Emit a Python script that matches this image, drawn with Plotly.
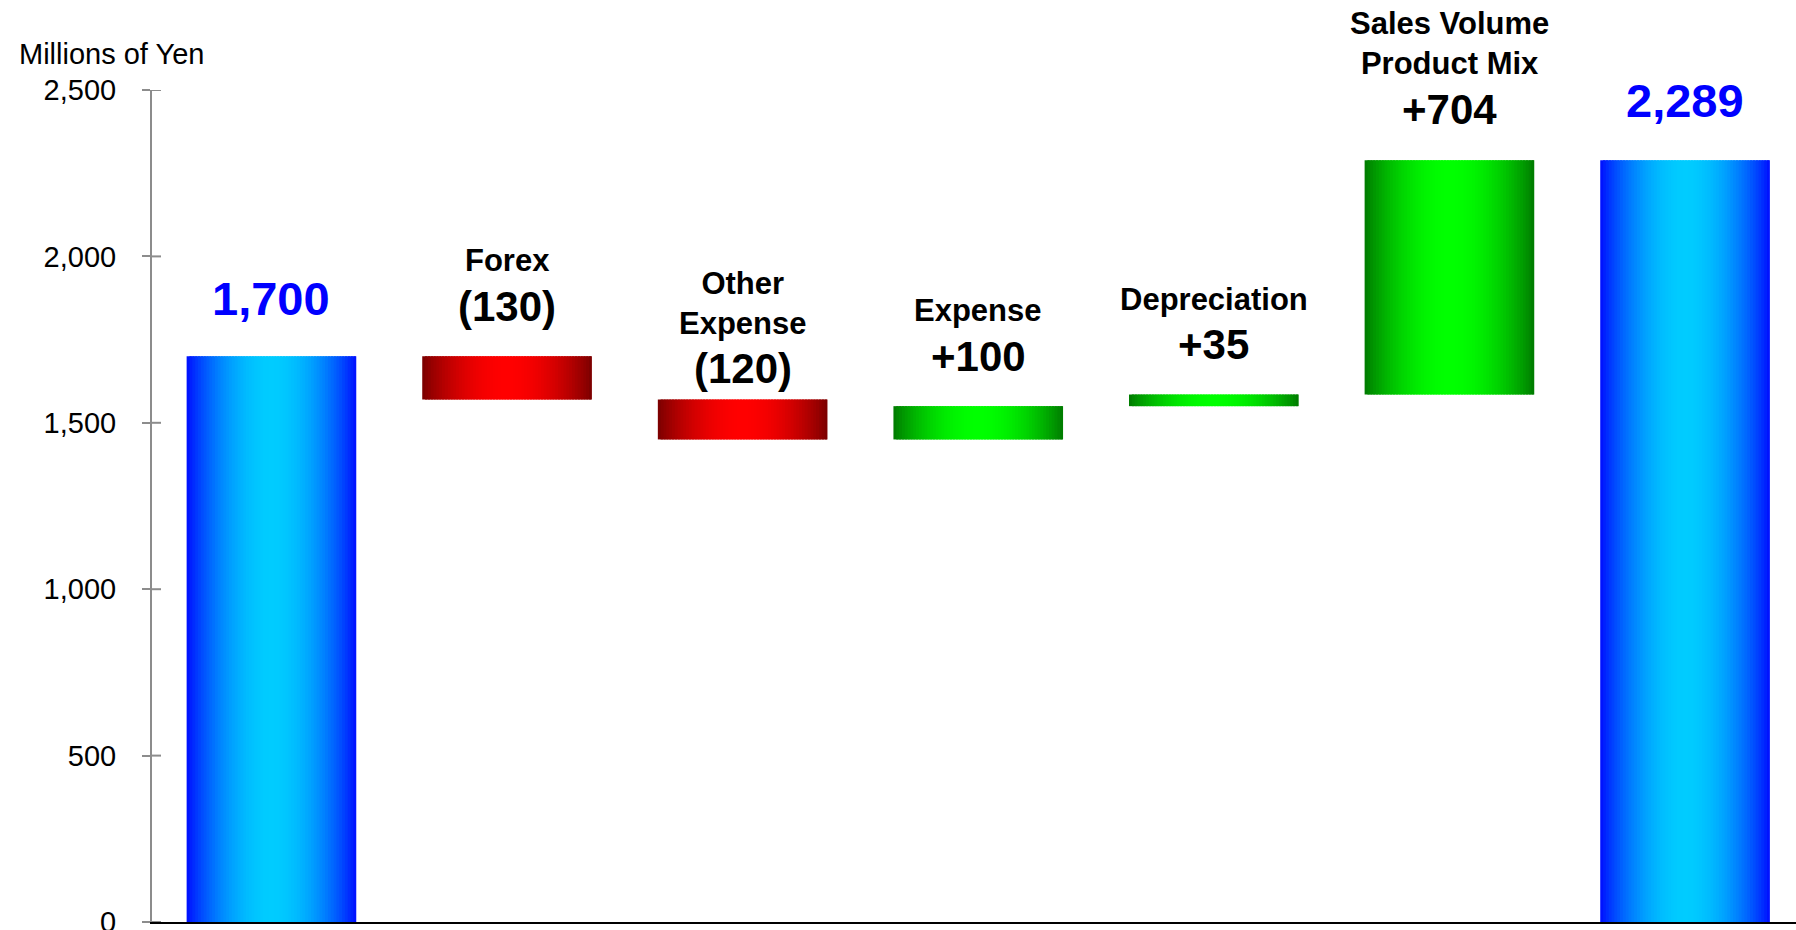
import math
import plotly.graph_objects as go

# ---- data ----
categories = ["Start", "Forex", "Other Expense", "Expense", "Depreciation", "Sales Volume Product Mix", "End"]
step_names = ["", "Forex", "Other<br>Expense", "Expense", "Depreciation", "Sales Volume<br>Product Mix", ""]
start_value = 1700
changes = [-130, -120, 100, 35, 704]
end_value = 2289
value_labels = ["1,700", "(130)", "(120)", "+100", "+35", "+704", "2,289"]
y_ticks = [0, 500, 1000, 1500, 2000, 2500]
y_tick_text = ["0", "500", "1,000", "1,500", "2,000", "2,500"]

# ---- derived waterfall geometry (from data) ----
bases, heights, kinds = [0], [start_value], ["total"]
running = start_value
for d in changes:
    if d < 0:
        bases.append(running + d); heights.append(-d); kinds.append("neg")
    else:
        bases.append(running); heights.append(d); kinds.append("pos")
    running += d
bases.append(0); heights.append(end_value); kinds.append("total")
tops = [b + h for b, h in zip(bases, heights)]

# ---- style ----
FONT = "Arial, Liberation Sans, sans-serif"
BAR_W = 0.72
N = 60
edge_center = {
    "total": ((0, 10, 255), (0, 204, 255)),
    "neg": ((120, 0, 0), (255, 0, 0)),
    "pos": ((0, 120, 0), (0, 255, 0)),
}
value_shift = [58, 50, 31, 50, 50, 51, 60]

def col(kind, t):
    e, c = edge_center[kind]
    s = math.sin(math.pi * t) ** 0.85
    return "rgb(%d,%d,%d)" % tuple(round(e[i] + (c[i] - e[i]) * s) for i in range(3))

fig = go.Figure()
step = BAR_W / N
for k in range(N):
    t = (k + 0.5) / N
    w = step * 1.8 if k < N - 1 else step
    fig.add_trace(go.Bar(
        x=categories, y=heights, base=bases,
        width=[w] * len(categories), offset=[-BAR_W / 2 + k * step] * len(categories),
        marker=dict(color=[col(kd, t) for kd in kinds], line=dict(width=0)),
        hoverinfo="skip", showlegend=False,
    ))

annotations = []
for i, cat in enumerate(categories):
    is_total = kinds[i] == "total"
    annotations.append(dict(
        x=cat, y=tops[i], xref="x", yref="y", showarrow=False,
        text="<b>%s</b>" % value_labels[i], yanchor="middle", yshift=value_shift[i],
        font=dict(family=FONT, size=47 if is_total else 42, color="#0000FF" if is_total else "#000000"),
    ))
    if step_names[i]:
        annotations.append(dict(
            x=cat, y=tops[i], xref="x", yref="y", showarrow=False,
            text="<b>%s</b>" % step_names[i], yanchor="bottom", yshift=value_shift[i] + 26,
            font=dict(family=FONT, size=31, color="#000000"),
        ))
annotations.append(dict(
    x=(17 - 152) / 1644, y=(922 - 54) / 832, xref="paper", yref="paper", showarrow=False,
    xanchor="left", yanchor="middle", text="Millions of Yen",
    font=dict(family=FONT, size=29, color="#000000"),
))

shapes = [dict(type="line", xref="x domain", yref="y", x0=0, x1=9 / 1644, y0=v, y1=v,
               line=dict(color="#8c8c8c", width=2)) for v in y_ticks]

fig.update_layout(
    width=1796, height=930, barmode="overlay",
    margin=dict(l=152, r=0, t=90, b=8, autoexpand=False),
    paper_bgcolor="white", plot_bgcolor="white",
    annotations=annotations, shapes=shapes,
    xaxis=dict(type="category", range=[-0.507, 6.471], showticklabels=False, ticks="",
               automargin=False,
               showgrid=False, zeroline=False, showline=True, linecolor="#000000", linewidth=2),
    yaxis=dict(range=[0, 2500], tickvals=y_ticks, ticktext=y_tick_text, ticks="outside",
               ticklen=8, tickwidth=2, tickcolor="#8c8c8c", ticklabelstandoff=20,
               ticklabeloverflow="allow", automargin=False,
               showgrid=False, zeroline=False, showline=True, linecolor="#8c8c8c", linewidth=2,
               tickfont=dict(family=FONT, size=29, color="#000000")),
    font=dict(family=FONT),
)
fig.write_html("out.html")
